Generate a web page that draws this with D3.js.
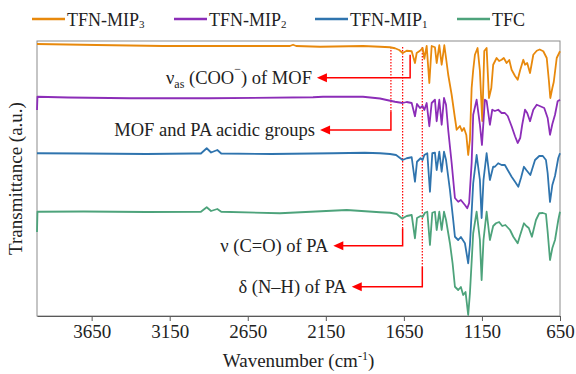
<!DOCTYPE html>
<html>
<head>
<meta charset="utf-8">
<script src="https://cdn.jsdelivr.net/npm/d3@7"></script>
<style>
body { margin: 0; background: #fff; }
svg { display: block; }
svg text { font-family: "Liberation Serif", "Times New Roman", serif; }
</style>
</head>
<body>
<div id="chart"></div>
<script>
const width = 576, height = 374;
const margin = {top: 41, right: 16, bottom: 58, left: 37};
const serif = "'Liberation Serif', 'Times New Roman', serif";

// FTIR spectra, [wavenumber cm-1, transmittance a.u.] (stacked, offset in a.u.)
const mip3 = [[4000,108.8],[3618,108.4],[3193,108.0],[2444,108.0],[2380,108.0],[2360,108.5],[2340,108.0],[2187,107.7],[1912,108.0],[1803,107.7],[1739,107.5],[1707,107.1],[1680,106.4],[1658,105.2],[1632,106.1],[1600,105.9],[1579,101.2],[1568,105.2],[1547,106.1],[1530,107.2],[1519,102.9],[1504,108.0],[1487,93.2],[1472,108.0],[1451,107.5],[1440,101.2],[1423,108.3],[1408,100.5],[1391,108.3],[1380,103.2],[1366,96.5],[1344,88.5],[1323,79.2],[1312,74.5],[1291,76.0],[1278,74.0],[1265,75.2],[1250,72.4],[1238,64.4],[1227,70.4],[1216,91.2],[1206,98.4],[1195,104.5],[1178,107.2],[1163,98.0],[1148,78.0],[1135,106.0],[1120,107.2],[1105,87.2],[1090,91.2],[1078,100.5],[1056,103.2],[1040,102.0],[1024,102.5],[1010,103.2],[992,101.2],[975,102.4],[960,98.5],[938,96.0],[921,94.5],[905,98.4],[885,102.5],[874,100.5],[860,101.2],[842,97.2],[821,104.5],[799,106.1],[780,106.6],[757,105.9],[735,103.2],[721,94.0],[712,87.2],[699,91.2],[690,93.6],[671,103.2],[650,105.9]];
const mip2 = [[4000,82.4],[3997,87.7],[3800,87.4],[3404,87.1],[2900,87.1],[2232,87.5],[2168,87.7],[1912,87.7],[1803,87.0],[1760,86.4],[1707,85.7],[1658,85.2],[1632,85.6],[1600,85.2],[1579,79.9],[1566,84.8],[1547,83.2],[1530,84.0],[1519,82.4],[1504,85.2],[1487,75.9],[1472,85.2],[1451,86.5],[1440,77.9],[1423,86.5],[1408,76.5],[1393,87.2],[1380,84.5],[1366,74.4],[1344,61.2],[1323,47.2],[1302,45.7],[1285,46.4],[1259,44.4],[1244,43.1],[1232,45.2],[1216,61.2],[1206,80.5],[1184,86.5],[1163,76.5],[1150,68.4],[1131,86.5],[1120,86.0],[1099,76.5],[1084,82.5],[1067,82.0],[1046,82.5],[1024,81.2],[1003,81.2],[985,80.0],[960,75.9],[938,71.9],[921,69.2],[905,71.2],[892,76.5],[874,82.5],[860,81.2],[842,77.9],[821,82.5],[799,84.5],[780,84.0],[751,83.2],[729,79.2],[714,72.5],[699,76.8],[682,80.5],[665,85.9],[650,86.5]];
const mip1 = [[4000,65.1],[3700,65.0],[3300,64.8],[3000,65.0],[2950,65.0],[2913,67.1],[2885,65.4],[2845,66.4],[2820,65.0],[2500,64.8],[2100,65.1],[1900,65.3],[1803,65.1],[1739,64.8],[1700,64.4],[1658,62.4],[1632,63.1],[1600,63.5],[1579,53.7],[1566,61.7],[1543,63.1],[1530,62.4],[1519,64.4],[1500,65.1],[1483,49.7],[1468,65.1],[1451,65.3],[1440,58.4],[1423,65.7],[1408,57.7],[1393,65.7],[1380,62.4],[1355,50.4],[1334,38.4],[1323,31.7],[1302,30.4],[1285,31.6],[1259,29.1],[1238,21.1],[1227,28.4],[1206,53.1],[1184,64.4],[1163,54.4],[1152,39.2],[1140,54.4],[1120,65.1],[1099,54.4],[1078,59.7],[1067,59.7],[1046,61.1],[1024,60.4],[1003,60.4],[985,58.4],[960,55.7],[938,53.7],[917,51.7],[900,55.2],[881,59.7],[866,58.4],[840,56.4],[810,62.4],[783,64.0],[760,64.0],[740,62.4],[729,57.1],[714,45.6],[699,52.4],[682,56.0],[661,63.2],[650,65.1]];
const tfc = [[4000,33.6],[3997,41.7],[3700,41.8],[3300,41.6],[2950,41.7],[2913,43.5],[2885,42.0],[2845,42.8],[2820,41.7],[2444,41.1],[2016,42.4],[1803,41.5],[1739,41.3],[1696,40.8],[1664,39.1],[1658,39.1],[1632,40.0],[1600,40.4],[1579,31.1],[1566,39.2],[1543,40.0],[1530,39.6],[1515,41.3],[1500,41.7],[1483,28.4],[1468,41.3],[1451,41.7],[1440,34.4],[1423,41.7],[1408,34.4],[1393,41.7],[1380,38.4],[1355,29.1],[1338,21.1],[1323,11.7],[1302,10.4],[1285,11.6],[1270,8.4],[1255,9.6],[1238,0.4],[1227,9.1],[1206,33.1],[1184,41.7],[1163,30.4],[1152,14.4],[1140,30.4],[1120,41.7],[1099,30.4],[1078,36.0],[1060,37.1],[1040,37.6],[1020,36.0],[1000,36.4],[970,34.4],[949,31.7],[921,29.1],[905,32.4],[881,37.1],[866,36.0],[850,35.2],[830,31.7],[804,38.4],[783,41.1],[760,41.2],[740,40.8],[729,33.6],[714,22.4],[699,27.2],[682,30.4],[661,38.4],[650,41.7]];

const seriesNames = ["TFN-MIP", "TFN-MIP", "TFN-MIP", "TFC"];
const seriesSubs = ["3", "2", "1", ""];
const seriesColors = ["#E8890C", "#8C2DB8", "#2F74AE", "#4DA37B"];
const seriesData = [mip3, mip2, mip1, tfc];

const xTicks = [3650, 3150, 2650, 2150, 1650, 1150, 650];

// annotations: wavenumber of the marker line, where the solid part starts, arrow level, arrow tip
const annoWn = [1610, 1733, 1658, 1532];
const annoStartT = [104.5, 81.9, 35.1, 19.7];
const annoArrowT = [95.3, 74.4, 28.1, 11.7];
const annoTipWn = [2207, 2187, 2102, 1984];
const annoText = [
  [["ν",""],["as","sub"],[" (COO",""],["−","sup"],[") of MOF",""]],
  [["MOF and PA acidic groups",""]],
  [["ν (C=O) of PA",""]],
  [["δ (N–H) of PA",""]]
];
const dottedWn = [1733, 1658, 1532];
const dottedTopT = 107.6;

const svg = d3.select("#chart").append("svg")
  .attr("width", width).attr("height", height);

const x = d3.scaleLinear().domain([4000, 650]).range([margin.left, width - margin.right]);
const y = d3.scaleLinear().domain([0, 110]).range([height - margin.bottom, margin.top]);

// frame
svg.append("rect")
  .attr("x", x(4000)).attr("y", y(110))
  .attr("width", x(650) - x(4000)).attr("height", y(0) - y(110))
  .attr("fill", "none").attr("stroke", "#8c8c8c").attr("stroke-width", 1);

// x axis
const xAxis = svg.append("g")
  .attr("transform", "translate(0," + y(0) + ")")
  .call(d3.axisBottom(x).tickValues(xTicks).tickSize(5).tickSizeOuter(0).tickPadding(4).tickFormat(d3.format("d")));
xAxis.attr("font-family", null);
xAxis.select(".domain").attr("stroke", "#595959");
xAxis.selectAll(".tick line").attr("stroke", "#595959");
xAxis.selectAll("text")
  .style("font-family", serif)
  .style("font-size", "19px").attr("fill", "#222");

// axis titles
const xt = svg.append("text")
  .attr("x", (x(4000) + x(650)) / 2).attr("y", 367)
  .attr("text-anchor", "middle").style("font-family", serif).style("font-size", "19px").attr("fill", "#222");
xt.append("tspan").text("Wavenumber (cm");
xt.append("tspan").attr("dy", -7).style("font-size", "12px").text("-1");
xt.append("tspan").attr("dy", 7).text(")");

svg.append("text")
  .attr("transform", "translate(22," + ((y(0) + y(110)) / 2) + ") rotate(-90)")
  .attr("text-anchor", "middle").style("font-family", serif).style("font-size", "19px").attr("fill", "#222")
  .text("Transmittance (a.u.)");

// red marker lines
svg.selectAll(".dotted").data(dottedWn).enter().append("line")
  .attr("x1", d => x(d)).attr("x2", d => x(d))
  .attr("y1", y(dottedTopT))
  .attr("y2", d => y(annoStartT[annoWn.indexOf(d)]))
  .attr("stroke", "#ff0000").attr("stroke-width", 1.2)
  .attr("stroke-dasharray", "1.5,1.5");

// spectra
const line = d3.line().x(d => x(d[0])).y(d => y(d[1]));
svg.selectAll(".spec").data(seriesData).enter().append("path")
  .attr("d", line)
  .attr("fill", "none")
  .attr("stroke", (d, i) => seriesColors[i])
  .attr("stroke-width", 1.8)
  .attr("stroke-linejoin", "round");

// annotation arrows
annoWn.forEach((wn, i) => {
  const xv = x(wn), ya = y(annoArrowT[i]), xt2 = x(annoTipWn[i]);
  svg.append("path")
    .attr("d", "M" + xv + "," + y(annoStartT[i]) + "V" + ya + "H" + (xt2 + 8))
    .attr("fill", "none").attr("stroke", "#ff0000").attr("stroke-width", 1.5);
  svg.append("path")
    .attr("d", "M" + xt2 + "," + ya + "L" + (xt2 + 10) + "," + (ya - 4.5) + "L" + (xt2 + 10) + "," + (ya + 4.5) + "Z")
    .attr("fill", "#ff0000");
  const t = svg.append("text")
    .attr("x", xt2 - 5).attr("y", ya + 6)
    .attr("text-anchor", "end").style("font-family", serif).style("font-size", "18.5px").attr("fill", "#222");
  let shift = 0;
  annoText[i].forEach(p => {
    if (p[1] === "sub") {
      t.append("tspan").attr("dy", 4 - shift).style("font-size", "12px").text(p[0]);
      shift = 4;
    } else if (p[1] === "sup") {
      t.append("tspan").attr("dy", -11 - shift).style("font-size", "12px").text(p[0]);
      shift = -11;
    } else {
      t.append("tspan").attr("dy", -shift).text(p[0]);
      shift = 0;
    }
  });
});

// legend
const legX = [32, 174, 315, 457];
const leg = svg.append("g");
seriesNames.forEach((name, i) => {
  leg.append("line")
    .attr("x1", legX[i]).attr("x2", legX[i] + 33)
    .attr("y1", 19).attr("y2", 19)
    .attr("stroke", seriesColors[i]).attr("stroke-width", 2.5);
  const t = leg.append("text")
    .attr("x", legX[i] + 35).attr("y", 25.5)
    .style("font-family", serif).style("font-size", "18px").attr("fill", "#222");
  t.append("tspan").text(name);
  if (seriesSubs[i]) t.append("tspan").attr("dy", 2).style("font-size", "11px").text(seriesSubs[i]);
});
</script>
</body>
</html>
